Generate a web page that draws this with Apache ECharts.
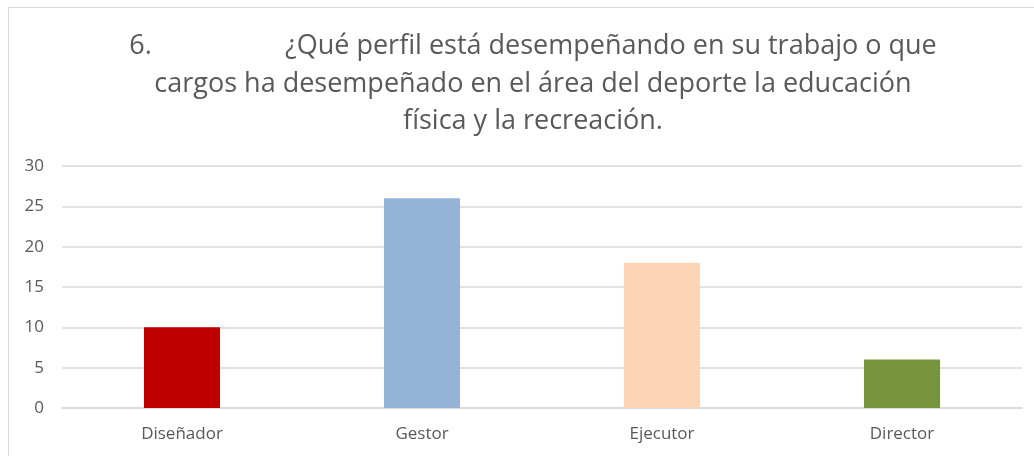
<!DOCTYPE html>
<html>
<head>
<meta charset="utf-8">
<script src="https://cdn.jsdelivr.net/npm/echarts@6/dist/echarts.min.js"></script>
<style>
html,body{margin:0;padding:0;background:#fff;}
#frame{position:absolute;left:8px;top:7px;width:1040px;height:460px;border:1.5px solid #D9D9D9;box-sizing:border-box;}
#chart{position:absolute;left:0;top:0;width:1034px;height:456px;}
</style>
</head>
<body>
<div id="frame"></div>
<div id="chart"></div>
<script>
const categories = ['Diseñador', 'Gestor', 'Ejecutor', 'Director'];
const values = [10, 26, 18, 6];
const barColors = ['#C00000', '#95B3D7', '#FCD5B5', '#77933C'];
const yTicks = [0, 5, 10, 15, 20, 25, 30];
const titleLines = [
  '6.                   ¿Qué perfil está desempeñando en su trabajo o que',
  'cargos ha desempeñado en el área del deporte la educación',
  'física y la recreación.'
];

const chart = echarts.init(document.getElementById('chart'), null, {renderer: 'canvas'});
const font = '"Open Sans", Lato, sans-serif';
chart.setOption({
  animation: false,
  title: {
    text: titleLines.join('\n'),
    left: 528,
    top: 23,
    textAlign: 'center',
    textStyle: {
      fontFamily: font,
      fontSize: 27,
      fontWeight: 'normal',
      color: '#595959',
      lineHeight: 37.5
    }
  },
  grid: {left: 62, right: 12, top: 166, bottom: 48, containLabel: false},
  xAxis: {
    type: 'category',
    data: categories,
    axisLine: {show: true, lineStyle: {color: '#D9D9D9', width: 1.5}},
    axisTick: {show: false},
    axisLabel: {fontFamily: font, fontSize: 17, color: '#595959', margin: 18}
  },
  yAxis: {
    type: 'value',
    min: yTicks[0],
    max: yTicks[yTicks.length - 1],
    interval: 5,
    axisLine: {show: false},
    axisTick: {show: false},
    splitLine: {lineStyle: {color: '#D9D9D9', width: 1.5}},
    axisLabel: {fontFamily: font, fontSize: 17, color: '#595959', margin: 18}
  },
  series: [{
    type: 'bar',
    barWidth: '31.7%',
    data: values.map((v, i) => ({value: v, itemStyle: {color: barColors[i]}}))
  }]
});
</script>
</body>
</html>
